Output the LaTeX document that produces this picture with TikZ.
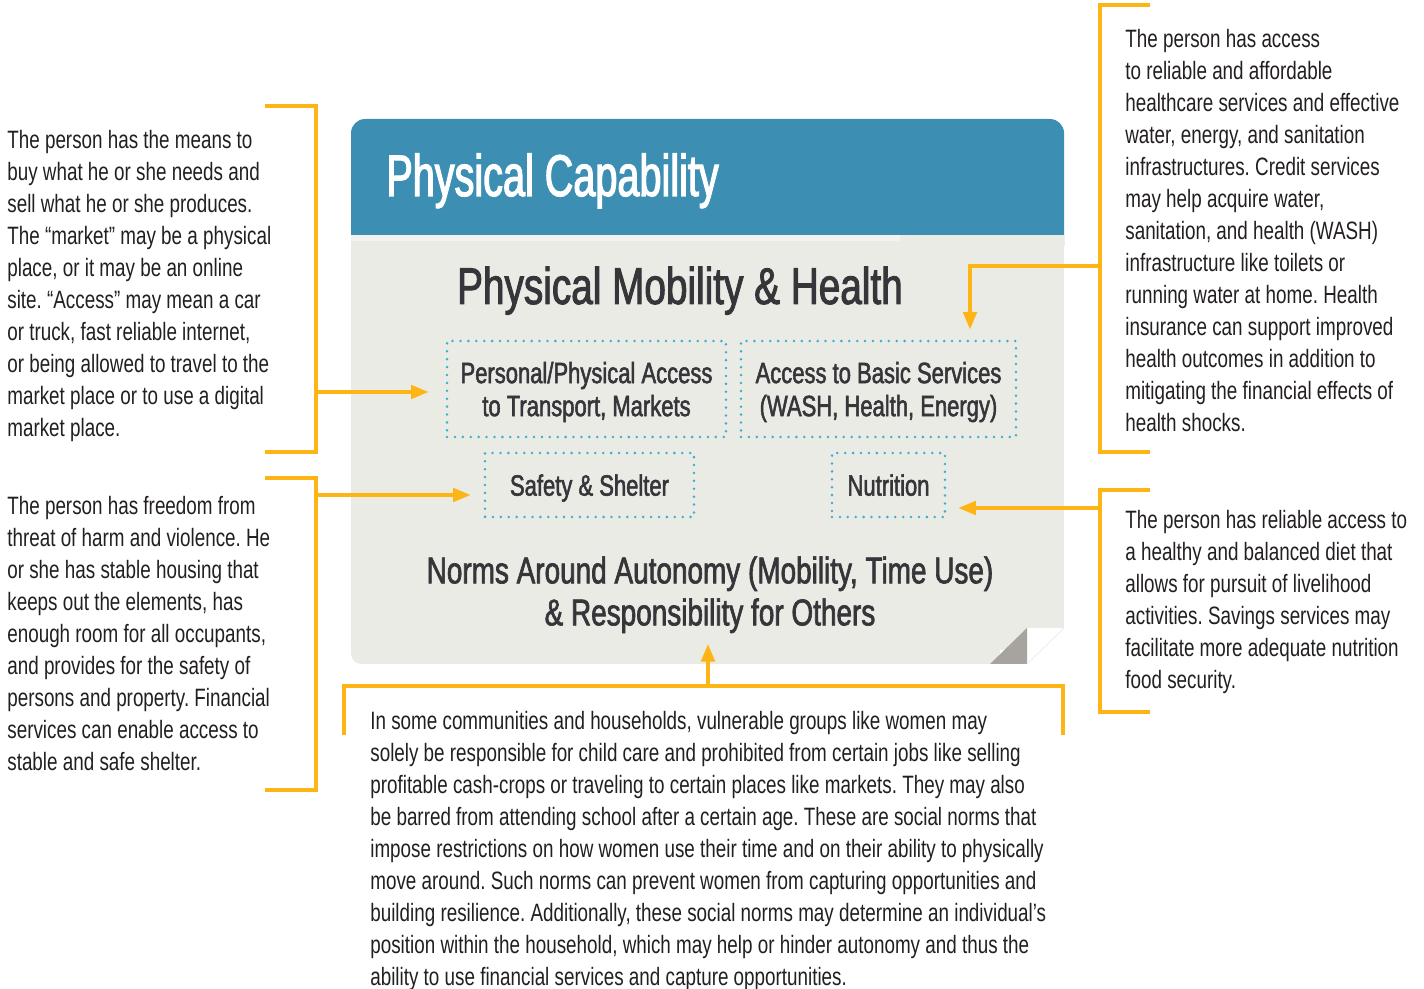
\documentclass[tikz,border=0pt]{standalone}
\usepackage{fontspec}
\setmainfont{Liberation Sans}
\newfontfamily\bodyFont[FakeStretch=0.75]{Liberation Sans}
\newfontfamily\headFont[FakeStretch=0.675,FakeBold=2]{Liberation Sans}
\newfontfamily\titleFont[FakeStretch=0.75,FakeBold=1.8]{Liberation Sans}
\usetikzlibrary{positioning,arrows.meta}
\definecolor{capBlue}{HTML}{3C8FB3}
\definecolor{cardGray}{HTML}{EBEBE6}
\definecolor{bandGray}{HTML}{F4F2EE}
\definecolor{foldGray}{HTML}{A7A49F}
\definecolor{linkOrange}{HTML}{FDB515}
\definecolor{dotTeal}{HTML}{3BB0CC}
\definecolor{titleInk}{HTML}{36353A}
\definecolor{bodyInk}{HTML}{231F20}
\tikzstyle{bracketLine}=[draw=linkOrange,line width=2pt]
\tikzstyle{linkArrow}=[bracketLine,-{Triangle[length=10pt,width=7.7pt]}]
\tikzstyle{bodyText}=[inner sep=0pt,align=left,text=bodyInk,anchor=north west,font=\bodyFont\fontsize{14.3}{18.2}\selectfont]
\tikzstyle{titleText}=[inner sep=0pt,text=titleInk,font=\titleFont]
\tikzstyle{dotBox}=[draw=dotTeal,line width=1.6pt,dash pattern=on 0pt off 4.5pt,line cap=round,align=center,text depth=0pt,text=titleInk,font=\titleFont\fontsize{16.7}{18.8}\selectfont]

\begin{document}
\frenchspacing
\begin{tikzpicture}[x=0.02cm,y=-0.02cm]
\newcommand{\Gap}{6pt}
\useasboundingbox (0,0) rectangle (1424,989);
% card
\fill[capBlue,rounded corners=8pt] (351,119) rectangle (1064,260);
\fill[cardGray] (351,235) rectangle (1064,650);
\fill[cardGray,rounded corners=6pt] (351,600) rectangle (1000,664);
\fill[bandGray] (351,235) rectangle (900,241);
\fill[white] (1027,628) rectangle (1066,666);
\fill[foldGray] (990,664) -- (1027,628) -- (1027,664) -- cycle;
\draw[gray!15,line width=0.4pt] (1064,628) -- (1027,664);

\node[inner sep=0pt,anchor=base west,text=white,font=\headFont\fontsize{33.4}{36}\selectfont]
        (capTitle) at (386,196) {Physical Capability};
\node[titleText,anchor=base,font=\titleFont\fontsize{29.4}{32}\selectfont]
        (mobilityTitle) at (680,304) {Physical Mobility \& Health};

\node[dotBox,minimum width=5.58cm,minimum height=1.92cm]
        (transportBox) at (586.5,389) {Personal/Physical Access\\to Transport, Markets};
\node[dotBox,minimum width=5.5cm,minimum height=1.92cm]
        (servicesBox) at (878.5,389) {Access to Basic Services\\(WASH, Health, Energy)};
\node[dotBox,minimum width=4.18cm,minimum height=1.28cm]
        (safetyBox) at (589.5,485) {Safety \& Shelter};
\node[dotBox,minimum width=2.26cm,minimum height=1.28cm]
        (nutritionBox) at (888.5,485) {Nutrition};

\node[titleText,align=center,anchor=north,font=\titleFont\fontsize{21.2}{23.9}\selectfont]
        (normsTitle) at (710,556) {Norms Around Autonomy (Mobility, Time Use)\\\& Responsibility for Others};

% side texts
\node[bodyText] (marketText) at (7,130) {The person has the means to\\
buy what he or she needs and\\
sell what he or she produces.\\
The “market” may be a physical\\
place, or it may be an online\\
site. “Access” may mean a car\\
or truck, fast reliable internet,\\
or being allowed to travel to the\\
market place or to use a digital\\
market place.};
\node[bodyText] (shelterText) at (7,496) {The person has freedom from\\
threat of harm and violence. He\\
or she has stable housing that\\
keeps out the elements, has\\
enough room for all occupants,\\
and provides for the safety of\\
persons and property. Financial\\
services can enable access to\\
stable and safe shelter.};
\node[bodyText] (servicesText) at (1125,29) {The person has access\\
to reliable and affordable\\
healthcare services and effective\\
water, energy, and sanitation\\
infrastructures. Credit services\\
may help acquire water,\\
sanitation, and health (WASH)\\
infrastructure like toilets or\\
running water at home. Health\\
insurance can support improved\\
health outcomes in addition to\\
mitigating the financial effects of\\
health shocks.};
\node[bodyText] (nutritionText) at (1125,510) {The person has reliable access to\\
a healthy and balanced diet that\\
allows for pursuit of livelihood\\
activities. Savings services may\\
facilitate more adequate nutrition\\
food security.};
\node[bodyText] (normsText) at (370,711) {In some communities and households, vulnerable groups like women may\\
solely be responsible for child care and prohibited from certain jobs like selling\\
profitable cash-crops or traveling to certain places like markets. They may also\\
be barred from attending school after a certain age. These are social norms that\\
impose restrictions on how women use their time and on their ability to physically\\
move around. Such norms can prevent women from capturing opportunities and\\
building resilience. Additionally, these social norms may determine an individual’s\\
position within the household, which may help or hinder autonomy and thus the\\
ability to use financial services and capture opportunities.};

% brackets
\foreach \xa/\xb/\ya/\yb in {265/316/106/452, 265/316/478/790, 1150/1100/5/452, 1150/1100/490/712}
        \draw[bracketLine] (\xa,\ya) -- (\xb,\ya) -- (\xb,\yb) -- (\xa,\yb);
\draw[bracketLine] (344,735) -- (344,686) -- (1063,686) -- (1063,735);

\coordinate (marketMid) at (316,392);
\coordinate (shelterMid) at (316,495);
\coordinate (servicesMid) at (1100,266);
\coordinate (servicesElbow) at (970,266);
\coordinate (nutritionMid) at (1100,508);
\coordinate (normsMid) at (708,686);

\draw[linkArrow,shorten >=9.7pt] (marketMid) -- (transportBox.west |- marketMid);
\draw[linkArrow,shorten >=7.4pt] (shelterMid) -- (safetyBox.west |- shelterMid);
\draw[linkArrow,shorten >=5.7pt] (servicesMid) -- (servicesElbow) -- (servicesElbow |- servicesBox.north);
\draw[linkArrow,shorten >=6.8pt] (nutritionMid) -- (nutritionBox.east |- nutritionMid);
\draw[linkArrow,shorten >=\Gap] (normsMid) -- (normsMid |- normsTitle.south);
\end{tikzpicture}
\end{document}
